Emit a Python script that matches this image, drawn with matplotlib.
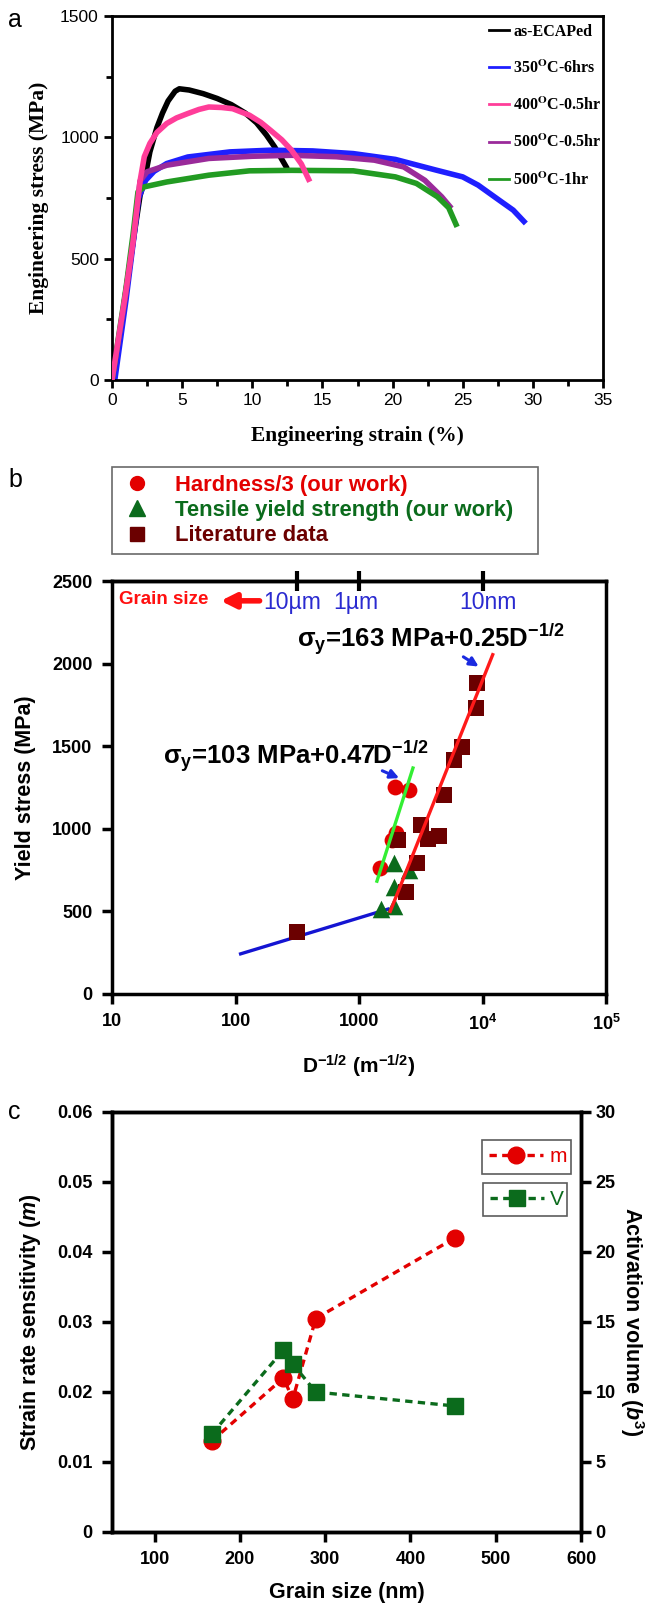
import numpy as np
import matplotlib
matplotlib.use("Agg")
import matplotlib.pyplot as plt
from matplotlib.lines import Line2D
from matplotlib.font_manager import FontProperties
from matplotlib.ticker import MultipleLocator, NullLocator, FixedLocator, FixedFormatter

plt.rcParams['font.family'] = 'Liberation Sans'
plt.rcParams['mathtext.fontset'] = 'custom'
plt.rcParams['mathtext.rm'] = 'Liberation Sans:bold'
plt.rcParams['mathtext.it'] = 'Liberation Sans:italic:bold'
plt.rcParams['mathtext.bf'] = 'Liberation Sans:bold'

# ---- panel a: tensile curves (strain %, stress MPa) ----
strain_ecap = [0, 0.5, 1.0, 1.5, 2.0, 2.3, 2.7, 3.2, 3.6, 4.0, 4.5, 4.8, 5.5, 6.5, 7.5, 8.5, 9.5, 10.3, 11.0, 11.6, 12.1, 12.5]
stress_ecap = [0, 170, 370, 570, 760, 820, 940, 1040, 1100, 1150, 1190, 1200, 1195, 1180, 1160, 1135, 1100, 1060, 1010, 960, 910, 870]

strain_350 = [0.2, 1.0, 1.5, 1.9, 2.4, 3.0, 3.9, 5.4, 8.4, 11.3, 14.3, 17.2, 20.2, 23.1, 25.0, 26.1, 27.6, 28.6, 29.5]
stress_350 = [0, 330, 560, 750, 823, 860, 892, 919, 940, 947, 944, 933, 909, 865, 837, 803, 741, 700, 645]

strain_400 = [0, 1.0, 1.5, 2.0, 2.3, 2.7, 3.2, 3.9, 4.6, 5.4, 6.2, 6.9, 7.8, 8.6, 9.8, 10.6, 11.3, 12.1, 12.8, 13.5, 14.1]
stress_400 = [0, 370, 570, 820, 920, 975, 1020, 1057, 1080, 1098, 1115, 1125, 1123, 1118, 1091, 1062, 1029, 990, 947, 890, 817]

strain_500a = [0, 1.0, 1.5, 2.0, 2.5, 3.9, 6.9, 10.0, 12.8, 16.0, 18.7, 20.8, 22.3, 23.5, 24.2]
stress_500a = [0, 360, 570, 820, 858, 885, 913, 922, 926, 920, 906, 878, 823, 755, 707]

strain_500b = [0, 1.0, 1.5, 1.85, 2.3, 3.9, 6.9, 9.8, 12.8, 17.2, 20.2, 21.7, 23.2, 24.0, 24.6]
stress_500b = [0, 380, 600, 775, 796, 816, 844, 862, 864, 862, 837, 810, 755, 710, 631]

labels_a = ["as-ECAPed", r"350$^{\mathbf{O}}$C-6hrs", r"400$^{\mathbf{O}}$C-0.5hr",
            r"500$^{\mathbf{O}}$C-0.5hr", r"500$^{\mathbf{O}}$C-1hr"]

# ---- panel b: Hall-Petch (D^-1/2 in m^-1/2, stress MPa) ----
hard_x = [1960, 2530, 1990, 1860, 1480]
hard_y = [1255, 1235, 975, 930, 762]
tens_x = [1932, 2530, 1932, 1507, 1932]
tens_y = [792, 751, 648, 514, 531]
lit_x = [315, 2070, 2402, 2930, 3155, 3640, 4466, 4880, 5880, 6790, 8850, 9080]
lit_y = [378, 933, 620, 796, 1024, 937, 957, 1202, 1414, 1494, 1731, 1882]
fit_blue_x = [110, 1718]
fit_blue_y = [243, 514]
fit_green_x = [1397, 2735]
fit_green_y = [683, 1368]
fit_red_x = [1790, 12100]
fit_red_y = [500, 2054]
top_tick_pos = [316, 1000, 10000]
top_labels = ["10\u00b5m", "1\u00b5m", "10nm"]
top_label_x = [290, 950, 11150]

# ---- panel c: strain rate sensitivity and activation volume ----
grain_nm = [167, 251, 262, 289, 452]
m_vals = [0.013, 0.022, 0.019, 0.0305, 0.042]
v_vals = [7, 13, 12, 10, 9]

W, H = 651, 1611
fig = plt.figure(figsize=(W / 100, H / 100), dpi=100)


def box(l, t, r, b):
    return [l / W, 1 - b / H, (r - l) / W, (b - t) / H]


# ================= panel a =================
ax = fig.add_axes(box(112, 16, 603, 380))
cols_a = ['black', '#1f1fff', '#ff3d99', '#9a2a9a', '#229b22']
data_a = [(strain_ecap, stress_ecap), (strain_350, stress_350), (strain_400, stress_400),
          (strain_500a, stress_500a), (strain_500b, stress_500b)]
lines = []
for (sx, sy), c in zip(data_a, cols_a):
    lines.append(ax.plot(sx, sy, color=c, lw=4, solid_capstyle='butt')[0])
lines[2].set_zorder(3)
ax.set_xlim(0, 35)
ax.set_ylim(0, 1500)
ax.xaxis.set_major_locator(MultipleLocator(5))
ax.xaxis.set_minor_locator(MultipleLocator(2.5))
ax.yaxis.set_major_locator(MultipleLocator(500))
ax.yaxis.set_minor_locator(MultipleLocator(250))
ax.tick_params(which='both', direction='out', width=2, labelsize=12.5, top=False, right=False)
ax.tick_params(which='major', length=6)
ax.tick_params(which='minor', length=4)
for s in ax.spines.values():
    s.set_linewidth(2)
serif_b = dict(family='Liberation Serif', weight='bold', size=15.5)
ax.set_xlabel("Engineering strain (%)", fontdict=serif_b, labelpad=13)
ax.set_ylabel("Engineering stress (MPa)", fontdict=serif_b, labelpad=8)
leg_prop = FontProperties(family='Liberation Serif', weight='bold', size=11.5, math_fontfamily='stix')
handles_a = [Line2D([], [], color=c, lw=2) for c in cols_a]
ax.legend(handles_a, labels_a, loc='upper right', frameon=False, prop=leg_prop,
          handlelength=1.2, handletextpad=0.3, labelspacing=1.25,
          bbox_to_anchor=(1.02, 1.01), borderaxespad=0.3)
fig.text(8 / W, 1 - 20 / H, "a", fontsize=18, va='center', ha='left')

# ================= panel b =================
bx = fig.add_axes(box(112, 581, 606, 994))
red, dgreen, dred = '#e30000', '#0b6b1c', '#6b0000'
bx.plot(fit_blue_x, fit_blue_y, color='#1414d2', lw=2.4, zorder=2)
bx.plot(fit_green_x, fit_green_y, color='#33ee33', lw=2.4, zorder=4)
bx.plot(fit_red_x, fit_red_y, color='#ff1a1a', lw=2.4, zorder=4)
bx.scatter(hard_x, hard_y, marker='o', s=130, color=red, zorder=3, linewidths=0)
bx.scatter(tens_x, tens_y, marker='^', s=160, color=dgreen, zorder=3, linewidths=0)
bx.scatter(lit_x, lit_y, marker='s', s=140, color=dred, zorder=3, linewidths=0)
bx.set_xscale('log')
bx.set_xlim(10, 1e5)
bx.set_ylim(0, 2500)
bx.xaxis.set_major_locator(FixedLocator([10, 100, 1000, 1e4, 1e5]))
bx.xaxis.set_major_formatter(FixedFormatter(['10', '100', '1000', r'10$^4$', r'10$^5$']))
bx.xaxis.set_minor_locator(NullLocator())
bx.yaxis.set_major_locator(MultipleLocator(500))
bx.tick_params(direction='out', length=7, width=2.5, labelsize=13, top=False, right=False, pad=7)
for lab in bx.get_xticklabels() + bx.get_yticklabels():
    lab.set_fontweight('bold')
for s in bx.spines.values():
    s.set_linewidth(2.5)
bx.set_xlabel(r"D$^{-1/2}$ (m$^{-1/2}$)", fontsize=15, fontweight='bold', labelpad=14)
bx.set_ylabel("Yield stress (MPa)", fontsize=15.5, fontweight='bold', labelpad=12)

sec = bx.secondary_xaxis('top')
sec.set_xticks(top_tick_pos)
sec.set_xticklabels([])
sec.xaxis.set_minor_locator(NullLocator())
sec.tick_params(direction='inout', length=14, width=3)
sec.spines['top'].set_linewidth(2.5)
for x, t in zip(top_label_x, top_labels):
    bx.text(x, 2367, t, color='#2a2ad0', fontsize=16.5, ha='center', va='center')
bx.text(11.5, 2385, "Grain size", color='#ff1010', fontsize=13.5, fontweight='bold', ha='left', va='center')
bx.annotate('', xy=(72, 2380), xytext=(165, 2380),
            arrowprops=dict(arrowstyle='-|>', color='#ff1010', lw=4, mutation_scale=22))
bx.text(313, 2150, r"$\mathrm{\sigma_y}$=163 MPa+0.25D$^{-1/2}$", fontsize=18.5, fontweight='bold',
        ha='left', va='center')
bx.text(26, 1440, r"$\mathrm{\sigma_y}$=103 MPa+0.47D$^{-1/2}$", fontsize=18.5, fontweight='bold',
        ha='left', va='center')
bx.annotate('', xy=(9730, 1973), xytext=(6700, 2050),
            arrowprops=dict(arrowstyle='-|>', color='#1a2ae0', lw=2.2, mutation_scale=13))
bx.annotate('', xy=(2218, 1300), xytext=(1472, 1358),
            arrowprops=dict(arrowstyle='-|>', color='#1a2ae0', lw=2.2, mutation_scale=13))

handles_b = [Line2D([], [], ls='none', marker='o', ms=10, color=red),
             Line2D([], [], ls='none', marker='^', ms=11, color=dgreen),
             Line2D([], [], ls='none', marker='s', ms=10, color=dred)]
labels_b = ["Hardness/3 (our work)", "Tensile yield strength (our work)", "Literature data"]
legb = fig.legend(handles_b, labels_b, loc='upper left',
                  bbox_to_anchor=(112 / W, 1 - 556 / H, (538 - 112) / W, (556 - 467) / H), mode='expand',
                  frameon=True, fancybox=False, edgecolor='#444444', borderaxespad=0,
                  prop=FontProperties(family='Liberation Sans', weight='bold', size=15.8),
                  handletextpad=0.9, labelspacing=0.2, borderpad=0.35, handlelength=1.6)
legb.get_frame().set_linewidth(1.2)
for t, c in zip(legb.get_texts(), [red, dgreen, dred]):
    t.set_color(c)
fig.text(8 / W, 1 - 480 / H, "b", fontsize=18, va='center', ha='left')

# ================= panel c =================
cx = fig.add_axes(box(112, 1112, 581, 1532))
dash = (0, (2.2, 1.6))
lm, = cx.plot(grain_nm, m_vals, ls=dash, color=red, lw=2.4, marker='o', ms=12, zorder=3)
cx.set_xlim(50, 600)
cx.set_ylim(0, 0.06)
cx.xaxis.set_major_locator(MultipleLocator(100))
cx.set_yticks([0, 0.01, 0.02, 0.03, 0.04, 0.05, 0.06])
cx.set_yticklabels(['0', '0.01', '0.02', '0.03', '0.04', '0.05', '0.06'])
cx.tick_params(direction='out', length=7, width=2.5, labelsize=13, top=False, pad=7)
cx2 = cx.twinx()
lv, = cx2.plot(grain_nm, v_vals, ls=dash, color=dgreen, lw=2.4, marker='s', ms=12, zorder=3)
cx2.set_ylim(0, 30)
cx2.yaxis.set_major_locator(MultipleLocator(5))
cx2.tick_params(direction='out', length=7, width=2.5, labelsize=13)
for a in (cx, cx2):
    for lab in a.get_xticklabels() + a.get_yticklabels():
        lab.set_fontweight('bold')
    for s in a.spines.values():
        s.set_linewidth(2.5)
cx.set_xlabel("Grain size (nm)", fontsize=15.5, fontweight='bold', labelpad=10)
cx.set_ylabel(r"Strain rate sensitivity ($\mathit{m}$)", fontsize=15.5, fontweight='bold', labelpad=10)
cx2.set_ylabel(r"Activation volume ($\mathit{b}^3$)", fontsize=15.5, fontweight='bold', rotation=270, labelpad=22)

lg1 = cx2.legend([lm], ['m'], loc='upper left', bbox_to_anchor=(0.788, 0.845, 0.19, 0.088), mode='expand',
                 fancybox=False, edgecolor='#333333', borderaxespad=0, handlelength=2.6,
                 prop=FontProperties(family='Liberation Sans', size=15), labelcolor=red,
                 borderpad=0.35, handletextpad=0.3)
lg1.get_frame().set_linewidth(1.2)
cx2.add_artist(lg1)
lg2 = cx2.legend([lv], ['V'], loc='upper left', bbox_to_anchor=(0.790, 0.743, 0.18, 0.089), mode='expand',
                 fancybox=False, edgecolor='#333333', borderaxespad=0, handlelength=2.6,
                 prop=FontProperties(family='Liberation Sans', size=15), labelcolor=dgreen,
                 borderpad=0.35, handletextpad=0.3)
lg2.get_frame().set_linewidth(1.2)
fig.text(8 / W, 1 - 1112 / H, "c", fontsize=18, va='center', ha='left')

fig.savefig("out.png", dpi=100)
